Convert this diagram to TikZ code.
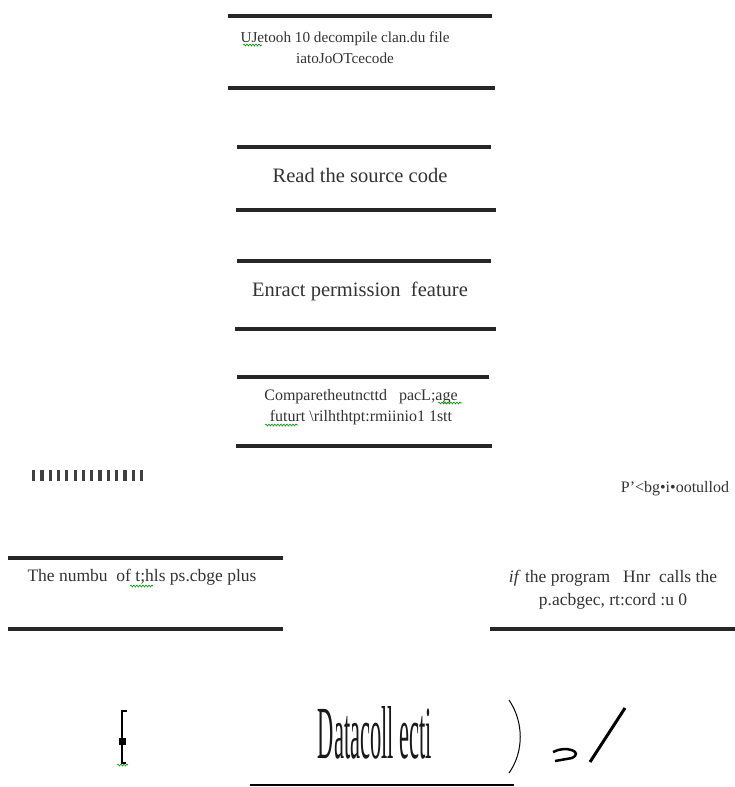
\documentclass[tikz,border=0pt]{standalone}
\usepackage{fontspec}
\setmainfont{Liberation Serif}
\usetikzlibrary{positioning}
\usetikzlibrary{decorations.pathmorphing}

\begin{document}
\begin{tikzpicture}[x=1pt, y=-1pt]
	\tikzstyle{rule}=[line width=3.5pt, draw=black!85]
	\tikzstyle{boxtext}=[align=center, text=black!80, inner sep=0pt, font=\fontsize{16}{21}\selectfont]
	\tikzstyle{widetext}=[boxtext, font=\fontsize{17.5}{23}\selectfont]
	\tikzstyle{bigtext}=[boxtext, font=\fontsize{20.5}{24}\selectfont]
	\tikzstyle{squiggle}=[draw=green!60!black, line width=0.6pt, decorate, decoration={snake, amplitude=1pt, segment length=3pt}]
	\useasboundingbox (0,0) rectangle (735,787);

	% decompile step
	\draw[rule] (228,16) -- (492,16);
	\node[boxtext, font=\fontsize{15.2}{21}\selectfont] (decompile) at (345,48) {UJetooh 10 decompile clan.du file\\iatoJoOTcecode};
	\draw[rule] (228,88) -- (495,88);
	\draw[squiggle] (243,45) -- (262,45);

	% read step
	\draw[rule] (237,147) -- (491,147);
	\node[bigtext] (read) at (360,175) {Read the source code};
	\draw[rule] (236,210) -- (496,210);

	% extract step
	\draw[rule] (237,261) -- (491,261);
	\node[bigtext] (extract) at (360,291) {Enract permission\ \ feature};
	\draw[rule] (235,329) -- (496,329);

	% compare step
	\draw[rule] (237,377) -- (489,377);
	\node[boxtext] (compare) at (361,407) {Comparetheutncttd\ \ \ pacL;age\\futurt \textbackslash rilhthtpt:rmiinio1 1stt};
	\draw[rule] (236,446) -- (492,446);
	\draw[squiggle] (438,403) -- (462,403);
	\draw[squiggle] (265,425) -- (298,425);

	% branch marks
	\foreach \i in {0,...,13}
		\fill[black!75] ({32+\i*8.3},470) rectangle ++(3.2,11);
	\node[boxtext, font=\fontsize{16}{19}\selectfont] (branch) at (675,489) {P'<bg•i•ootullod};

	% left result
	\draw[rule] (8,558) -- (283,558);
	\node[widetext] (count) at (142,577) {The numbu\ \ of t;hls ps.cbge plus};
	\draw[rule] (8,629) -- (283,629);
	\draw[squiggle] (130,586) -- (153,586);

	% right result
	\node[widetext] (record) at (613,590) {\textit{if} the program\ \ \ Hnr\ \ calls the\\p.acbgec, rt:cord :u 0};
	\draw[rule] (490,629) -- (735,629);

	% data collection
	\node[text=black!90, inner sep=0pt, font=\fontsize{75}{75}\selectfont, xscale=0.3] (collect) at (375,733) {Datacoll ecti};
	\draw[line width=1.5pt] (127,711) -- (122,711) -- (122,763) -- (126,763);
	\fill (118.5,738) rectangle (125.5,745);
	\draw[squiggle] (117,765) -- (128,765);
	\draw[line width=1pt] (509,700) .. controls (524,722) and (524,752) .. (509,773);
	\draw[line width=2.5pt] (553,752) .. controls (566,745) and (584,752) .. (572,758) -- (555,761);
	\draw[line width=3pt] (590,762) -- (625,708);
	\draw[line width=1.8pt] (250,785) -- (514,785);
\end{tikzpicture}
\end{document}
